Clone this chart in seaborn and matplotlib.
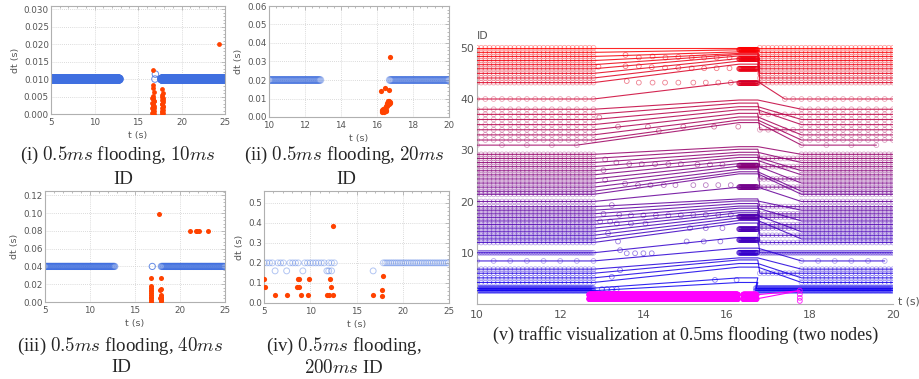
import numpy as np
import pandas as pd
import matplotlib
matplotlib.use("Agg")
import matplotlib.pyplot as plt
from matplotlib.ticker import AutoMinorLocator, MultipleLocator
import seaborn as sns

# ============ panel (i): 0.5ms flooding, 10ms ID ============
p1_blue_seg = [(5.0, 12.85, 0.01), (17.72, 25.0, 0.01)]   # (start, stop, period)
p1_blue_level = 0.010
p1_blue_x_t = [16.95, 17.0]
p1_blue_x_dt = [0.0100, 0.0114]
p1_red_t = [16.70, 16.78, 16.72, 16.80, 16.70, 16.78, 16.72, 16.80, 16.70, 16.78, 16.72, 16.80, 16.70, 16.78, 16.74,
            16.66, 16.84, 16.66, 16.84, 16.66, 16.84, 16.66, 16.84,
            17.76, 17.84, 17.78, 17.86, 17.76, 17.84, 17.78, 17.86, 17.76, 17.84, 17.80, 17.78,
            17.72, 17.90, 17.72, 17.90, 17.72, 17.90,
            24.35]
p1_red_dt = [0.0125, 0.0082, 0.0074, 0.0064, 0.0052, 0.0047, 0.0042, 0.0037, 0.0032, 0.0027, 0.0022, 0.0017, 0.0012, 0.0007, 0.0002,
             0.0045, 0.0038, 0.0031, 0.0024, 0.0017, 0.0010, 0.0004, 0.0000,
             0.0072, 0.0060, 0.0053, 0.0047, 0.0041, 0.0035, 0.0029, 0.0023, 0.0017, 0.0011, 0.0005, 0.0000,
             0.0050, 0.0040, 0.0030, 0.0020, 0.0010, 0.0003,
             0.0200]

# ============ panel (ii): 0.5ms flooding, 20ms ID ============
p2_blue_seg = [(10.0, 12.87, 0.02), (16.70, 20.0, 0.02)]
p2_blue_level = 0.020
p2_red_t = [16.22, 16.45, 16.68, 16.70,
            16.25, 16.30, 16.35, 16.40, 16.45, 16.50, 16.28, 16.38, 16.48,
            16.50, 16.55, 16.58, 16.62, 16.66, 16.70, 16.74, 16.60, 16.68, 16.56]
p2_red_dt = [0.0142, 0.0155, 0.0147, 0.0325,
             0.0040, 0.0035, 0.0042, 0.0030, 0.0046, 0.0038, 0.0028, 0.0025, 0.0031,
             0.0062, 0.0075, 0.0066, 0.0085, 0.0072, 0.0080, 0.0076, 0.0068, 0.0088, 0.0058]

# ============ panel (iii): 0.5ms flooding, 40ms ID ============
p3_blue_seg = [(5.0, 12.78, 0.04), (17.90, 25.0, 0.04)]
p3_blue_level = 0.040
p3_blue_x_t = [16.92]
p3_blue_x_dt = [0.040]
p3_red_t = [16.78, 16.78, 16.74, 16.80, 16.76, 16.80, 16.74, 16.78, 16.80, 16.76, 16.78,
            17.85, 17.85, 17.82, 17.88, 17.84, 17.86, 17.82, 17.88, 17.85, 17.84,
            17.63, 21.10, 21.78, 21.90, 22.10, 23.15]
p3_red_dt = [0.027, 0.018, 0.016, 0.014, 0.012, 0.010, 0.008, 0.006, 0.004, 0.002, 0.000,
             0.027, 0.015, 0.013, 0.008, 0.006, 0.005, 0.004, 0.003, 0.002, 0.001,
             0.099, 0.080, 0.080, 0.080, 0.080, 0.080]

# ============ panel (iv): 0.5ms flooding, 200ms ID ============
p4_blue_t = [5.0, 5.3, 5.6, 5.9, 6.5, 6.8, 7.1, 7.8, 8.1, 8.4, 8.7, 9.4, 9.7, 10.0, 10.3, 10.6,
             10.9, 11.2, 11.5, 12.0, 12.3, 12.6]
p4_blue_post = (17.90, 25.0, 0.2)
p4_blue_level = 0.20
p4_blue_low_t = [6.2, 7.45, 9.2, 11.8, 12.0, 12.3, 16.8]
p4_blue_low_dt = [0.16, 0.16, 0.16, 0.16, 0.16, 0.16, 0.16]
p4_red_t = [5.0, 5.1, 6.19, 7.45, 8.6, 8.71, 8.83, 8.8, 9.0, 9.86, 9.8, 11.78, 11.99,
            12.14, 12.2, 12.46, 12.5, 16.75, 17.72, 17.72, 17.83]
p4_red_dt = [0.12, 0.078, 0.038, 0.038, 0.078, 0.12, 0.12, 0.078, 0.038, 0.12, 0.038, 0.038, 0.038,
             0.12, 0.078, 0.038, 0.382, 0.042, 0.067, 0.033, 0.133]

# ============ panel (v): traffic visualization ============
v_ids = [50.0, 49.1, 48.3, 47.5, 46.7, 45.9, 45.0, 44.1, 43.2,
         40.0,
         38.0, 37.0, 36.0, 35.0, 34.0, 33.0, 32.0, 31.0,
         29.2, 28.4, 27.6, 26.8, 26.0, 25.2, 24.4, 23.6, 22.8, 22.0, 21.4,
         20.0,
         19.0, 18.3, 17.6, 16.9, 16.2, 15.5, 14.8, 14.1, 13.4, 12.7, 12.0,
         10.0,
         8.4, 6.8, 6.0, 5.1, 4.2, 3.1, 2.6]
v_period = [0.1, 0.1, 0.1, 0.1, 0.1, 0.1, 0.1, 0.1, 0.1,
            0.2,
            0.2, 0.2, 0.2, 0.2, 0.2, 0.2, 0.2, 0.6,
            0.1, 0.1, 0.1, 0.1, 0.1, 0.1, 0.1, 0.1, 0.1, 0.1, 0.1,
            0.1,
            0.1, 0.1, 0.1, 0.1, 0.1, 0.1, 0.1, 0.1, 0.1, 0.1, 0.1,
            0.04,
            0.4, 0.1, 0.1, 0.1, 0.1, 0.02, 0.02]
v_rise = [0.0, 0.5, 0.9, 1.4, 2.0, 2.5, 2.9, 3.3, 3.6,
          3.4,
          1.8, 2.2, 2.5, 2.9, 3.2, 3.5, 3.9, 4.4,
          1.5, 1.8, 2.0, 2.3, 2.6, 2.8, 3.0, 3.3, 3.5, 3.8, 4.0,
          2.8,
          1.5, 1.8, 2.0, 2.2, 2.5, 2.7, 3.0, 3.2, 3.4, 3.6, 3.8,
          3.0,
          2.5, 2.2, 2.6, 2.8, 3.0, 2.0, 1.6]
v_resume = [16.8, 16.8, 16.8, 16.8, 16.8, 16.8, 16.8, 16.8, 16.8,
            17.4,
            17.8, 16.8, 17.8, 17.8, 16.8, 17.8, 17.8, 17.8,
            17.8, 16.8, 17.8, 16.8, 17.8, 17.8, 16.8, 17.8, 16.8, 17.8, 17.8,
            17.8,
            16.8, 17.8, 16.8, 16.8, 17.8, 16.8, 16.8, 17.8, 16.8, 17.8, 16.8,
            16.8,
            17.8, 17.8, 16.8, 17.8, 17.8, 16.7, 16.7]
v_burst_ids = [49.6, 47.8, 45.9, 43.1, 27.0, 22.8, 17.0, 14.6, 12.5, 10.0]
v_gap_t = [12.92, 13.57, 13.89, 14.22, 14.53, 14.84, 15.16, 15.46, 15.76, 16.07,
           13.57, 13.89, 14.20, 14.52, 14.84, 15.16, 15.46, 15.76, 16.07,
           13.60, 13.89, 14.22, 14.52, 14.84, 15.20, 15.50, 15.80, 16.10,
           12.94, 13.39, 14.11, 14.37, 14.96, 15.70, 16.28,
           13.08, 13.35, 13.66, 13.96, 14.28, 14.60, 14.90, 15.30, 15.60, 15.90,
           13.04, 13.08, 13.56, 13.87, 14.17, 14.49, 14.77, 15.20, 15.50, 15.80, 16.10,
           13.24, 13.04, 13.42, 13.70, 14.00, 14.30, 14.60, 14.90, 15.20, 15.50, 15.80, 16.10,
           12.96, 13.20, 13.36, 13.70, 14.05, 15.12, 15.50, 15.90,
           13.15, 13.39, 15.04, 15.45, 15.85,
           13.44, 13.60, 13.80, 14.00, 14.20,
           13.44, 13.24, 15.72, 16.24, 13.00, 13.12, 13.24, 13.36]
v_gap_id = [46.3, 48.6, 48.1, 48.3, 48.1, 48.2, 48.1, 48.1, 48.1, 48.1,
            46.4, 46.4, 46.2, 46.1, 46.1, 46.0, 46.0, 46.0, 46.0,
            43.5, 43.2, 43.2, 43.2, 43.2, 43.2, 43.2, 43.2, 43.2,
            36.4, 34.6, 34.6, 33.8, 34.6, 34.6, 34.6,
            28.2, 27.6, 27.3, 27.3, 27.3, 27.3, 27.3, 27.2, 27.2, 27.2,
            26.1, 24.2, 23.5, 23.2, 23.2, 23.2, 23.2, 23.2, 23.2, 23.2, 23.2,
            19.3, 17.6, 17.4, 17.3, 17.3, 17.3, 17.3, 17.3, 17.4, 17.4, 17.4, 17.4,
            16.1, 16.1, 15.7, 15.7, 15.7, 14.8, 14.8, 14.8,
            13.8, 12.2, 12.2, 12.2, 12.2,
            10.5, 9.9, 9.9, 9.9, 9.9,
            6.6, 5.3, 4.7, 4.7, 2.9, 2.9, 2.9, 2.9]
v_flood_ids = [1.0, 1.8]
v_flood_seg = [(12.70, 16.27, 0.003), (16.40, 16.72, 0.005)]
v_flood_tail_t = [17.76, 17.76, 17.76, 17.76]
v_flood_tail_id = [2.6, 1.9, 1.2, 0.6]

# ---------------- styling ----------------
BLUE = "#3f6fe0"
RED = "#ff4200"
GREY_TXT = "#555555"
FRAME = "#b0b0b0"

sns.set_style("white")
plt.rcParams["font.family"] = ["DejaVu Sans"]
plt.rcParams["mathtext.fontset"] = "cm"

W, H = 919, 379
fig = plt.figure(figsize=(W / 100, H / 100), dpi=100)


def box(l, t, r, b):
    return [l / W, 1 - b / H, (r - l) / W, (b - t) / H]


def seg_points(segs):
    return np.concatenate([np.arange(a, b, p) for a, b, p in segs])


def open_pts(ax, t, y, color, s, alpha, lw=0.7, **kw):
    sns.scatterplot(x=np.asarray(t), y=np.asarray(y), ax=ax, marker="o", s=s,
                    facecolors="none", edgecolor=color, linewidth=lw, alpha=alpha,
                    legend=False, **kw)


def red_pts(ax, t, dt, s=12):
    sns.scatterplot(x=t, y=dt, ax=ax, color=RED, s=s, linewidth=0, legend=False, zorder=4)


def style_small(ax, xlim, xticks, ylim, yticks, fmt):
    ax.set_xlim(*xlim)
    ax.set_ylim(*ylim)
    ax.set_xticks(xticks)
    ax.set_yticks(yticks)
    ax.set_xticklabels([str(v) for v in xticks])
    ax.set_yticklabels([fmt.format(v) for v in yticks])
    ax.xaxis.set_minor_locator(AutoMinorLocator(5))
    ax.yaxis.set_minor_locator(AutoMinorLocator(5))
    ax.grid(True, which="major", color="#cfcfcf", linestyle=(0, (1, 1.5)), linewidth=0.6)
    for sp in ax.spines.values():
        sp.set_color(FRAME)
        sp.set_linewidth(0.8)
    ax.tick_params(which="both", direction="in", top=True, right=True, colors=FRAME,
                   labelcolor=GREY_TXT, labelsize=6.3, width=0.6, pad=1.5)
    ax.tick_params(axis="x", which="both", pad=3)
    ax.tick_params(which="major", length=3)
    ax.tick_params(which="minor", length=1.5)
    ax.set_xlabel("t (s)", fontsize=6.8, color=GREY_TXT, labelpad=2.5)
    ax.set_ylabel("dt (s)", fontsize=6.8, color=GREY_TXT, labelpad=3)


# ---- (i)
ax1 = fig.add_axes(box(51, 6, 225, 114))
t = seg_points(p1_blue_seg)
open_pts(ax1, t, np.full(t.size, p1_blue_level), BLUE, 32, 0.45, lw=0.9)
open_pts(ax1, p1_blue_x_t, p1_blue_x_dt, BLUE, 22, 0.8)
red_pts(ax1, p1_red_t, p1_red_dt)
style_small(ax1, (5, 25), [5, 10, 15, 20, 25], (0, 0.0309),
            [0.0, 0.005, 0.010, 0.015, 0.020, 0.025, 0.030], "{:.3f}")

# ---- (ii)
ax2 = fig.add_axes(box(269, 6, 449, 117))
t = seg_points(p2_blue_seg)
open_pts(ax2, t, np.full(t.size, p2_blue_level), BLUE, 24, 0.2)
red_pts(ax2, p2_red_t, p2_red_dt, s=14)
style_small(ax2, (10, 20), [10, 12, 14, 16, 18, 20], (0, 0.06),
            [0.0, 0.01, 0.02, 0.03, 0.04, 0.05, 0.06], "{:.2f}")

# ---- (iii)
ax3 = fig.add_axes(box(45, 191, 225, 302))
t = seg_points(p3_blue_seg)
open_pts(ax3, t, np.full(t.size, p3_blue_level), BLUE, 20, 0.3)
open_pts(ax3, p3_blue_x_t, p3_blue_x_dt, BLUE, 20, 0.8)
red_pts(ax3, p3_red_t, p3_red_dt, s=13)
style_small(ax3, (5, 25), [5, 10, 15, 20, 25], (0, 0.1248),
            [0.0, 0.02, 0.04, 0.06, 0.08, 0.10, 0.12], "{:.2f}")

# ---- (iv)
ax4 = fig.add_axes(box(264, 191, 449, 303))
t_post = np.arange(*p4_blue_post)
t = np.concatenate([p4_blue_t, t_post])
open_pts(ax4, t, np.full(t.size, p4_blue_level), BLUE, 18, 0.35)
open_pts(ax4, p4_blue_low_t, p4_blue_low_dt, BLUE, 18, 0.4)
red_pts(ax4, p4_red_t, p4_red_dt, s=14)
style_small(ax4, (5, 25), [5, 10, 15, 20, 25], (0, 0.558),
            [0.0, 0.1, 0.2, 0.3, 0.4, 0.5], "{:.1f}")

# ---- (v)
axv = fig.add_axes(box(477, 304 - 51 * 5.125, 893, 304))


def id_color(v):
    f = min(max(v / 50.0, 0.0), 1.0)
    return (f, 0.0, 1.0 - f)


for vid, per, rise, res in zip(v_ids, v_period, v_rise, v_resume):
    col = id_color(vid)
    pre = np.arange(10.0, 12.8, per)
    post = np.arange(res, 20.0001, per)
    lt = np.concatenate([pre, [16.3, 16.75], post])
    ly = np.concatenate([np.full(pre.size, vid), [vid + rise, vid + rise], np.full(post.size, vid)])
    axv.plot(lt, ly, color=col, lw=0.8, alpha=0.85, zorder=3)
    pts = np.concatenate([pre, post])
    open_pts(axv, pts, np.full(pts.size, vid), col, 12, 0.35, lw=0.6, zorder=2)

for bid in v_burst_ids:
    col = id_color(bid)
    bt = np.arange(16.3, 16.75, 0.01)
    axv.plot(bt, np.full(bt.size, bid), color=col, lw=1.0, alpha=0.9, zorder=3)
    open_pts(axv, bt, np.full(bt.size, bid), col, 12, 0.5, lw=0.6, zorder=2)

gap_cols = [id_color(v) for v in v_gap_id]
df_gap = pd.DataFrame({"t": v_gap_t, "id": v_gap_id})
axv.scatter(df_gap["t"], df_gap["id"], s=12, facecolors="none",
            edgecolors=gap_cols, linewidths=0.6, alpha=0.5, zorder=2)

MAG = "#ff00ff"
for fid in v_flood_ids:
    ft = seg_points(v_flood_seg)
    open_pts(axv, ft, np.full(ft.size, fid), MAG, 14, 0.6, lw=0.7, zorder=4)
    axv.plot([16.72, v_flood_tail_t[0]], [fid, v_flood_tail_id[0]], color=MAG, lw=0.8, zorder=4)
open_pts(axv, v_flood_tail_t, v_flood_tail_id, MAG, 12, 0.8, lw=0.7, zorder=4)

axv.set_xlim(10, 20)
axv.set_ylim(0, 51)
axv.set_xticks([10, 12, 14, 16, 18, 20])
axv.set_yticks([10, 20, 30, 40, 50])
axv.xaxis.set_minor_locator(MultipleLocator(0.5))
axv.yaxis.set_minor_locator(MultipleLocator(2))
for side in ("top", "right"):
    axv.spines[side].set_visible(False)
for side in ("left", "bottom"):
    axv.spines[side].set_color(FRAME)
    axv.spines[side].set_linewidth(0.8)
axv.spines["left"].set_bounds(0, 50)
axv.tick_params(which="both", direction="in", colors=FRAME, labelcolor=GREY_TXT,
                labelsize=7.8, width=0.6, pad=2)
axv.tick_params(axis="x", which="both", pad=4)
axv.tick_params(which="major", length=4)
axv.tick_params(which="minor", length=2)
axv.text(0.0, 1.025, "ID", transform=axv.transAxes, fontsize=7.8, color=GREY_TXT,
         ha="left", va="center")
axv.text(1.013, 0.01, "t (s)", transform=axv.transAxes, fontsize=7.8, color=GREY_TXT,
         ha="left", va="center")

# ---------------- captions ----------------
cap = dict(fontsize=13.6, family=["Liberation Serif", "DejaVu Serif"], ha="center", va="center")
fig.text(118 / W, 1 - 155 / H, r"(i) $0.5ms$ flooding, $10ms$", **cap)
fig.text(123 / W, 1 - 179 / H, "ID", **cap)
fig.text(344 / W, 1 - 155 / H, r"(ii) $0.5ms$ flooding, $20ms$", **cap)
fig.text(346 / W, 1 - 179 / H, "ID", **cap)
fig.text(120 / W, 1 - 346 / H, r"(iii) $0.5ms$ flooding, $40ms$", **cap)
fig.text(121 / W, 1 - 368 / H, "ID", **cap)
fig.text(344 / W, 1 - 346 / H, r"(iv) $0.5ms$ flooding,", **cap)
fig.text(344 / W, 1 - 368 / H, r"$200ms$ ID", **cap)
cap["fontsize"] = 13.0
fig.text(686 / W, 1 - 335 / H, "(v) traffic visualization at 0.5ms flooding (two nodes)", **cap)

fig.savefig("out.png", dpi=100)
